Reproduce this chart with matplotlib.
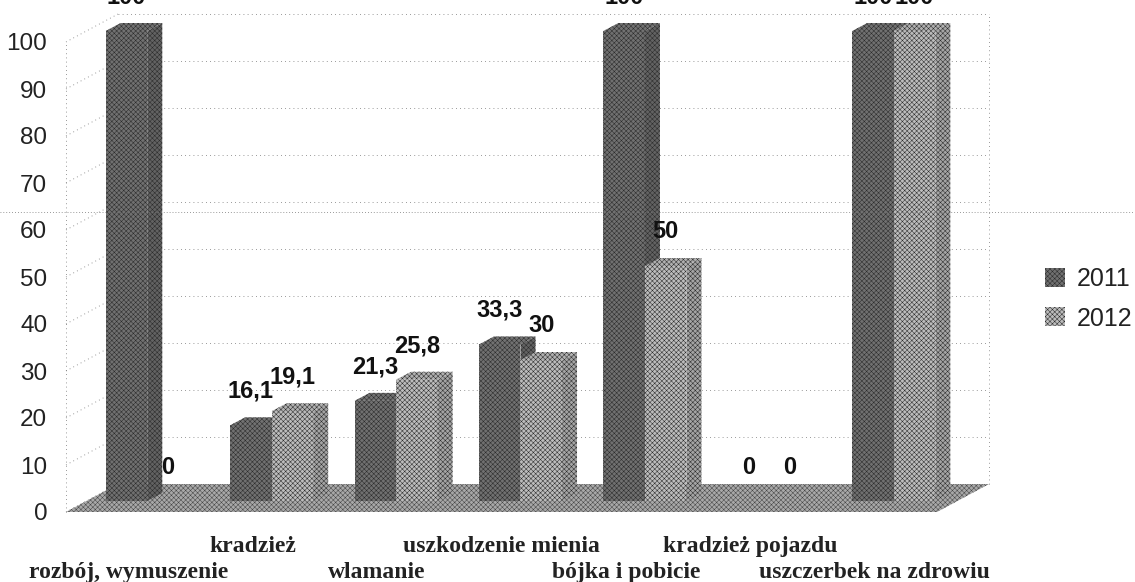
import matplotlib
matplotlib.use("Agg")
import matplotlib.pyplot as plt
from matplotlib.lines import Line2D
from matplotlib.patches import Polygon

# values
categories = ["rozbój, wymuszenie", "kradzież", "wlamanie", "uszkodzenie mienia",
              "bójka i pobicie", "kradzież pojazdu", "uszczerbek na zdrowiu"]
series_names = ["2011", "2012"]
values_2011 = [100, 16.1, 21.3, 33.3, 100, 0, 100]
values_2012 = [0, 19.1, 25.8, 30, 50, 0, 100]
labels_2011 = ["100", "16,1", "21,3", "33,3", "100", "0", "100"]
labels_2012 = ["0", "19,1", "25,8", "30", "50", "0", "100"]
y_ticks = list(range(0, 101, 10))

W, H = 1135, 582
PX_X = 124.4          # pixels per category
PX_Y = 4.7            # pixels per value unit
DEPTH_X = 52 / PX_X   # depth of the 3d box
DEPTH_Y = 28 / PX_Y
BAR_W = 41.5 / PX_X
SIDE_X = 15 / PX_X
SIDE_Y = 8 / PX_Y
BAR_DX = 19 / PX_X    # bars sit a bit behind the front edge
BAR_DY = 11 / PX_Y

DARK = "#707070"
LIGHT = "#bcbcbc"
FLOOR = "#a8a8a8"
GRID = "#777777"
HATCH = "xxxxxxx"

plt.rcParams["font.family"] = ["Liberation Sans", "DejaVu Sans"]
plt.rcParams["hatch.linewidth"] = 0.35

fig = plt.figure(figsize=(W / 100, H / 100), dpi=100)
ax = fig.add_axes([66 / W, (H - 512) / H, (989 - 66) / W, 106 * PX_Y / H])
ax.set_xlim(-0.5, 6.5 + DEPTH_X)
ax.set_ylim(0, 106)
for s in ax.spines.values():
    s.set_visible(False)

dots = (0, (1, 4))


def wall_lines():
    for v in y_ticks:
        ax.plot([-0.5 + DEPTH_X, 6.5 + DEPTH_X], [v + DEPTH_Y, v + DEPTH_Y],
                color=GRID, lw=0.6, ls=dots, zorder=1, clip_on=False)
        ax.plot([-0.5, -0.5 + DEPTH_X], [v, v + DEPTH_Y],
                color=GRID, lw=0.6, ls=dots, zorder=1, clip_on=False)
    ax.plot([-0.5, -0.5], [0, 100], color=GRID, lw=0.6, ls=dots, zorder=1, clip_on=False)
    ax.plot([6.5 + DEPTH_X] * 2, [DEPTH_Y, 100 + DEPTH_Y], color=GRID, lw=0.6, ls=dots,
            zorder=1, clip_on=False)


def bar3d(x, v, color, side, top, z):
    base = BAR_DY
    if v <= 0:
        return
    ax.bar(x, v, width=BAR_W, bottom=base, align="edge", color=color, hatch=HATCH,
           edgecolor="#2a2a2a", linewidth=0, zorder=z, clip_on=False)
    ax.add_patch(Polygon([(x + BAR_W, base), (x + BAR_W + SIDE_X, base + SIDE_Y),
                          (x + BAR_W + SIDE_X, base + v + SIDE_Y), (x + BAR_W, base + v)],
                         facecolor=side, hatch=HATCH, edgecolor="#2a2a2a", lw=0,
                         zorder=z, clip_on=False))
    ax.add_patch(Polygon([(x, base + v), (x + SIDE_X, base + v + SIDE_Y),
                          (x + BAR_W + SIDE_X, base + v + SIDE_Y), (x + BAR_W, base + v)],
                         facecolor=top, hatch=HATCH, edgecolor="#2a2a2a", lw=0,
                         zorder=z, clip_on=False))


wall_lines()

# floor
ax.add_patch(Polygon([(-0.5, 0), (6.5, 0), (6.5 + DEPTH_X, DEPTH_Y), (-0.5 + DEPTH_X, DEPTH_Y)],
                     facecolor=FLOOR, hatch=HATCH, edgecolor="#444444", lw=0, zorder=2,
                     clip_on=False))

for i in range(len(categories)):
    x_dark = i + BAR_DX - BAR_W
    x_light = i + BAR_DX
    bar3d(x_dark, values_2011[i], DARK, "#626262", "#727272", 3 + i * 0.1)
    bar3d(x_light, values_2012[i], LIGHT, "#a4a4a4", "#b0b0b0", 3.05 + i * 0.1)

for i in range(len(categories)):
    for x, v, lab in [(i + BAR_DX - BAR_W / 2, values_2011[i], labels_2011[i]),
                      (i + BAR_DX + BAR_W / 2, values_2012[i], labels_2012[i])]:
        ax.text(x, v + BAR_DY + SIDE_Y + 26 / PX_Y, lab, ha="center", va="center",
                fontsize=17, fontweight="bold", color="#111111", zorder=6, clip_on=False)

ax.set_yticks(y_ticks)
ax.tick_params(axis="y", length=0, pad=13.5, labelsize=17.5, labelcolor="#222222")
ax.set_xticks(range(len(categories)))
ax.set_xticklabels(categories, family="Liberation Serif", fontweight="bold", fontsize=17,
                   color="#222222")
ax.tick_params(axis="x", length=0)
for i, t in enumerate(ax.xaxis.get_major_ticks()):
    t.set_pad(36 if i % 2 == 0 else 17)

# scan line running across the whole page
fig.add_artist(Line2D([0, 1], [(H - 212) / H] * 2, color=GRID, lw=0.6, ls=(0, (1, 2.5))))

handles = [plt.Rectangle((0, 0), 1, 1, facecolor=DARK, hatch=HATCH, edgecolor="#2a2a2a", lw=0),
           plt.Rectangle((0, 0), 1, 1, facecolor=LIGHT, hatch=HATCH, edgecolor="#2a2a2a", lw=0)]
fig.legend(handles, series_names, loc="upper left", bbox_to_anchor=(1037 / W, (H - 260) / H),
           frameon=False, fontsize=18, handlelength=0.82, handleheight=0.77,
           handletextpad=0.45, labelspacing=0.6, labelcolor="#222222",
           borderpad=0.3, borderaxespad=0)

fig.savefig("out.png", dpi=100)
